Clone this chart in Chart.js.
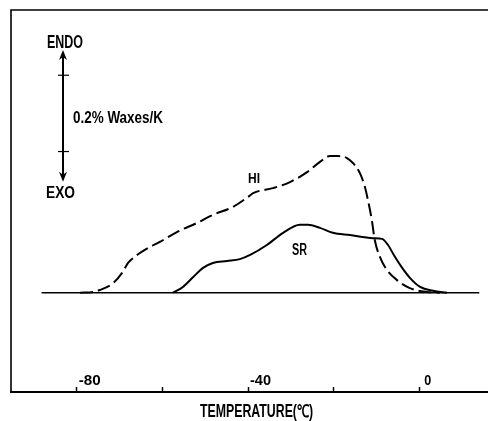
<!DOCTYPE html>
<html><head><meta charset="utf-8">
<script src="https://cdn.jsdelivr.net/npm/chart.js@4.4.1/dist/chart.umd.min.js"></script>
<style>html,body{margin:0;padding:0;background:#fff;overflow:hidden}#wrap{width:488px;height:421px;position:relative}</style>
</head><body><div id="wrap"><canvas id="c"></canvas></div>
<script>
// Temperatures in °C, values in %/K (wax precipitation rate)
const hiTemps  = [-79.2,-76.2,-74.6,-71.5,-69.4,-68.0,-65.9,-63.4,-60.6,-56.6,-51.9,-48.2,-43.5,-40.0,-38.8,-34.2,-30.2,-26.2,-23.2,-20.9,-19.0,-16.9,-15.5,-13.9,-12.7,-12.0,-11.1,-10.4,-9.2,-7.6,-5.2,-2.2,1.8,4.8];
const hiValues = [0,0.002,0.007,0.025,0.052,0.078,0.099,0.117,0.133,0.159,0.183,0.204,0.225,0.251,0.261,0.274,0.290,0.316,0.343,0.358,0.358,0.353,0.340,0.314,0.277,0.243,0.191,0.138,0.094,0.060,0.033,0.012,0.002,0];
const srTemps  = [-57.5,-55.2,-52.8,-50.5,-48.2,-44.9,-41.9,-39.5,-35.6,-31.8,-27.9,-26.0,-23.2,-20.2,-16.2,-10.8,-8.7,-7.3,-5.7,-4.0,-2.2,0.2,3.2,6.5];
const srValues = [0,0.015,0.041,0.065,0.078,0.083,0.088,0.099,0.125,0.157,0.178,0.178,0.170,0.157,0.151,0.143,0.141,0.125,0.094,0.065,0.039,0.015,0.005,0];
const baselineTemps  = [-88.2, 14.0];
const baselineValues = [0, 0];
const tickValues = [-80, -60, -40, -20, 0];
const tickLabels = ['-80', '', '-40', '', '0'];
const seriesNames = ['HI', 'SR'];
const xTitle = 'TEMPERATURE(℃)';
const endoLabel = 'ENDO';
const exoLabel = 'EXO';
const scaleBarLabel = '0.2% Waxes/K';
const scaleBarTemp = -83.2;
const scaleBarValues = [0.37, 0.57];   // 0.2 %/K apart
const arrowValues = [0.291, 0.636];

const FF = "'Liberation Sans','Arial',sans-serif";
Chart.defaults.font.family = FF;
Chart.defaults.color = '#000';

const toPts = (xs, ys) => xs.map((x, i) => ({x, y: ys[i]}));

// draw condensed bold text: left edge, baseline, cap height, total width (pixels)
function drawFit(ctx, text, left, base, cap, width) {
  const size = cap / 0.716;
  ctx.save();
  ctx.font = 'bold ' + size.toFixed(1) + 'px ' + FF;
  ctx.textAlign = 'left';
  ctx.textBaseline = 'alphabetic';
  const w = ctx.measureText(text).width;
  ctx.translate(left, base);
  ctx.scale(width / w, 1);
  ctx.fillText(text, 0, 0);
  ctx.restore();
}

const annot = {
  id: 'annot',
  afterDraw(chart) {
    const {ctx, chartArea: a, scales: {x, y}} = chart;
    const X = v => x.getPixelForValue(v), Y = v => y.getPixelForValue(v);
    ctx.save();
    // no right-hand frame edge in the original
    ctx.fillStyle = '#fff';
    ctx.fillRect(a.right - 3, a.top + 2, chart.width - a.right + 3, a.bottom - a.top - 4);
    ctx.strokeStyle = '#000';
    ctx.fillStyle = '#000';
    // frame: left and top
    ctx.lineWidth = 1.6;
    ctx.beginPath();
    ctx.moveTo(a.left, a.bottom); ctx.lineTo(a.left, a.top); ctx.lineTo(chart.width, a.top);
    ctx.stroke();
    // scale arrow
    const ax = X(scaleBarTemp);
    const yTop = Y(arrowValues[1]);
    const yBot = Y(arrowValues[0]);
    ctx.lineWidth = 2;
    ctx.beginPath(); ctx.moveTo(ax, yTop + 6); ctx.lineTo(ax, yBot - 6); ctx.stroke();
    ctx.beginPath(); ctx.moveTo(ax, yTop); ctx.lineTo(ax - 4, yTop + 10); ctx.lineTo(ax, yTop + 7); ctx.lineTo(ax + 4, yTop + 10); ctx.closePath(); ctx.fill();
    ctx.beginPath(); ctx.moveTo(ax, yBot); ctx.lineTo(ax - 4, yBot - 10); ctx.lineTo(ax, yBot - 7); ctx.lineTo(ax + 4, yBot - 10); ctx.closePath(); ctx.fill();
    ctx.lineWidth = 1.2;
    scaleBarValues.forEach(v => {
      const py = Y(v);
      ctx.beginPath(); ctx.moveTo(ax - 5, py); ctx.lineTo(ax + 6, py); ctx.stroke();
    });
    // texts
    drawFit(ctx, endoLabel, X(-86.94), Y(0.6406), 13, 36);
    drawFit(ctx, exoLabel, X(-87.17), Y(0.2474), 11.5, 29);
    drawFit(ctx, scaleBarLabel, X(-80.86), Y(0.444), 11.5, 90);
    drawFit(ctx, seriesNames[0], X(-40.0), Y(0.2875), 10.5, 12);
    drawFit(ctx, seriesNames[1], X(-29.73), Y(0.0988), 12, 15);
    // x tick labels (inside, above the axis, right of tick)
    const labW = {'-80': 22, '-40': 21, '0': 7};
    tickValues.forEach((v, i) => {
      const t = tickLabels[i];
      if (!t) return;
      drawFit(ctx, t, X(v) + (v === 0 ? 5 : 2), a.bottom - 7, 10.5, labW[t] || 6 * t.length);
    });
    // axis title
    drawFit(ctx, xTitle, X(-51.2), a.bottom + 25, 12.5, 113);
    ctx.restore();
  }
};

new Chart(document.getElementById('c'), {
  type: 'line',
  data: {
    datasets: [
      {label: 'baseline', data: toPts(baselineTemps, baselineValues), borderColor: '#000', borderWidth: 1.6, pointRadius: 0, tension: 0},
      {label: seriesNames[0], data: toPts(hiTemps, hiValues), borderColor: '#000', borderWidth: 2, borderDash: [13, 5], pointRadius: 0, cubicInterpolationMode: 'monotone'},
      {label: seriesNames[1], data: toPts(srTemps, srValues), borderColor: '#000', borderWidth: 2, pointRadius: 0, cubicInterpolationMode: 'monotone'}
    ]
  },
  options: {
    responsive: true,
    maintainAspectRatio: false,
    animation: false,
    layout: {padding: {left: 11, top: 10, right: 0, bottom: 0}},
    plugins: {legend: {display: false}, tooltip: {enabled: false}},
    scales: {
      x: {
        type: 'linear', min: -95.34, max: 16.04,
        afterBuildTicks: s => { s.ticks = tickValues.map(v => ({value: v})); },
        afterFit: s => { s.height = 29; },
        ticks: {display: false},
        grid: {display: true, drawOnChartArea: false, drawTicks: true, tickLength: -5, tickColor: '#000', tickWidth: 1.5},
        border: {display: true, color: '#000', width: 2},
        title: {display: false}
      },
      y: {type: 'linear', display: false, min: -0.2603, max: 0.741}
    }
  },
  plugins: [annot]
});
</script>
</body></html>
